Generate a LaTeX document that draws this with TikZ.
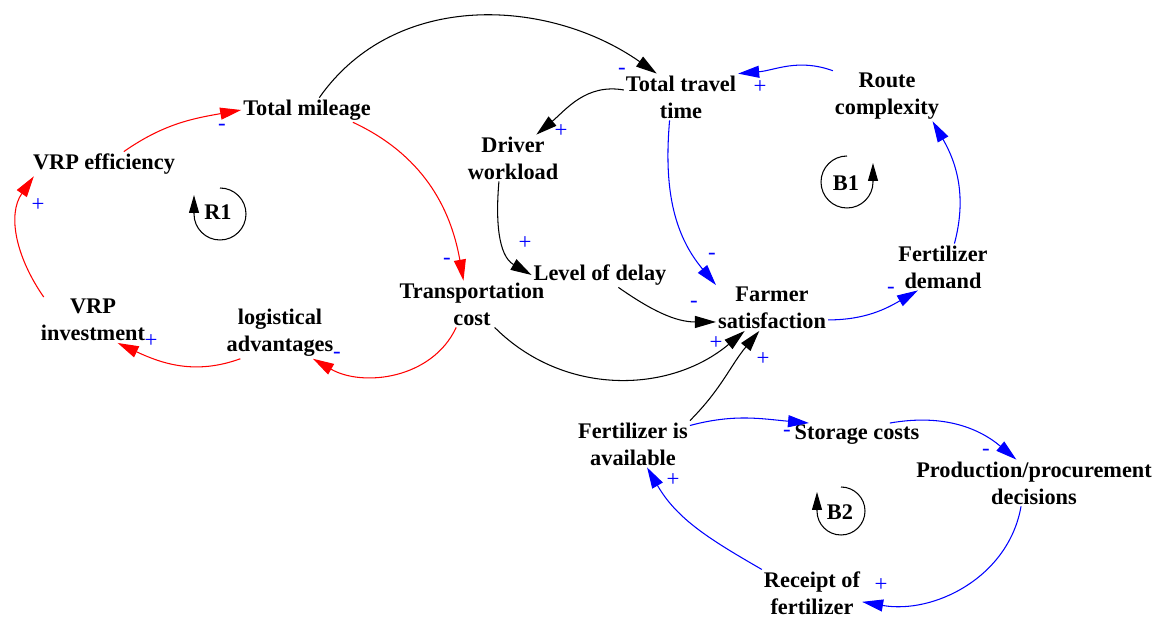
\documentclass[tikz,border=0pt]{standalone}
\usepackage{fontspec}
\setmainfont{Liberation Serif}
\usetikzlibrary{arrows.meta}

\begin{document}
\begin{tikzpicture}[
  x=0.02cm, y=0.02cm,
  factor/.style={
    align=center, inner sep=1pt,
    font=\bfseries\fontsize{12.7}{15.3}\selectfont
  },
  polarity/.style={text=blue, inner sep=0pt, font=\fontsize{13}{13}\selectfont},
  link/.style={line width=0.6pt, -{Triangle[length=4.2mm,width=2.4mm]}},
  redlink/.style={link, draw=red},
  bluelink/.style={link, draw=blue},
  blacklink/.style={link, draw=black},
  loopsym/.style={line width=0.6pt, -{Triangle[length=3.6mm,width=2mm]}},
  looplabel/.style={font=\bfseries\fontsize{12.7}{15.3}\selectfont, inner sep=0pt}
]
\useasboundingbox (0,0) rectangle (1159,-618);

% factors
\node[factor] (tm)   at (307,-110) {Total mileage};
\node[factor] (vrpe) at (104,-164) {VRP efficiency};
\node[factor] (vrpi) at (93,-320)  {VRP\\investment};
\node[factor] (la)   at (280,-333) {logistical\\advantages};
\node[factor] (tc)   at (472,-304) {Transportation\\cost};
\node[factor] (ttt)  at (681,-97)  {Total travel\\time};
\node[factor] (dw)   at (513,-158) {Driver\\workload};
\node[factor] (lod)  at (600,-275) {Level of delay};
\node[factor] (fs)   at (772,-308) {Farmer\\satisfaction};
\node[factor] (rc)   at (887,-96)  {Route\\complexity};
\node[factor] (fd)   at (943,-267) {Fertilizer\\demand};
\node[factor] (fia)  at (633,-444) {Fertilizer is\\available};
\node[factor] (sc)   at (857,-435) {Storage costs};
\node[factor] (ppd)  at (1034,-483) {Production/procurement\\decisions};
\node[factor] (rf)   at (812,-593) {Receipt of\\fertilizer};

% loop markers
\node[looplabel] (r1) at (218,-212) {R1};
\node[looplabel] (b1) at (846,-183) {B1};
\node[looplabel] (b2) at (840,-512) {B2};
\draw[loopsym] (220,-188) arc (90:-180:0.52cm) -- ++(0,19);
\draw[loopsym] (847,-156) arc (90:360:0.52cm) -- ++(0,19);
\draw[loopsym] (841,-487) arc (90:-180:0.48cm) -- ++(0,19);

% R1
\draw[redlink] (vrpe.32) to[out=35,in=190] (tm.west);
\draw[redlink] (tm.-15) to[out=-25,in=100] (tc.110);
\draw[redlink] (tc.236) to[out=-115,in=-30] (la.-38);
\draw[redlink] (la.213) to[out=-160,in=-25] (vrpi.-43);
\draw[redlink] (vrpi.155) to[out=125,in=-125] (vrpe.190);

% links to satisfaction
\draw[blacklink] (tm.45) to[out=55,in=145] (ttt.136);
\draw[blacklink] (ttt.173) to[out=170,in=40] (dw.45);
\draw[blacklink] (dw.239) to[out=-95,in=150] (lod.west);
\draw[bluelink] (ttt.244) to[out=-95,in=130] (fs.north west);
\draw[blacklink] (lod.-34) to[out=-35,in=180] (fs.194);
\draw[blacklink] (tc.-46) to[out=-45,in=-140] (fs.220);
\draw[blacklink] (fia.north east) to[out=45,in=-130] (fs.241);

% B1
\draw[bluelink] (rc.155) to[out=160,in=5] (ttt.north east);
\draw[bluelink] (fs.-12) to[out=0,in=-150] (fd.223);
\draw[bluelink] (fd.64) to[out=75,in=-60] (rc.-29);

% B2
\draw[bluelink] (fia.18) to[out=15,in=175] (sc.166);
\draw[bluelink] (sc.20) to[out=10,in=140] (ppd.127);
\draw[bluelink] (ppd.241) to[out=-100,in=-10] (rf.-10);
\draw[bluelink] (rf.north west) to[out=150,in=-60] (fia.-59);

% polarities
\node[polarity] (p1)  at (222,-127) {-};
\node[polarity] (p2)  at (447,-261) {-};
\node[polarity] (p3)  at (337,-355) {-};
\node[polarity] (p4)  at (151,-341) {+};
\node[polarity] (p5)  at (38,-205)  {+};
\node[polarity] (p6)  at (622,-71)  {-};
\node[polarity] (p7)  at (561,-131) {+};
\node[polarity] (p8)  at (525,-243) {+};
\node[polarity] (p9)  at (712,-256) {-};
\node[polarity] (p10) at (694,-304) {-};
\node[polarity] (p11) at (716,-343) {+};
\node[polarity] (p12) at (763,-359) {+};
\node[polarity] (p13) at (760,-87)  {+};
\node[polarity] (p14) at (891,-290) {-};
\node[polarity] (p16) at (787,-433) {-};
\node[polarity] (p17) at (986,-452) {-};
\node[polarity] (p18) at (881,-585) {+};
\node[polarity] (p19) at (673,-480) {+};
\end{tikzpicture}
\end{document}
